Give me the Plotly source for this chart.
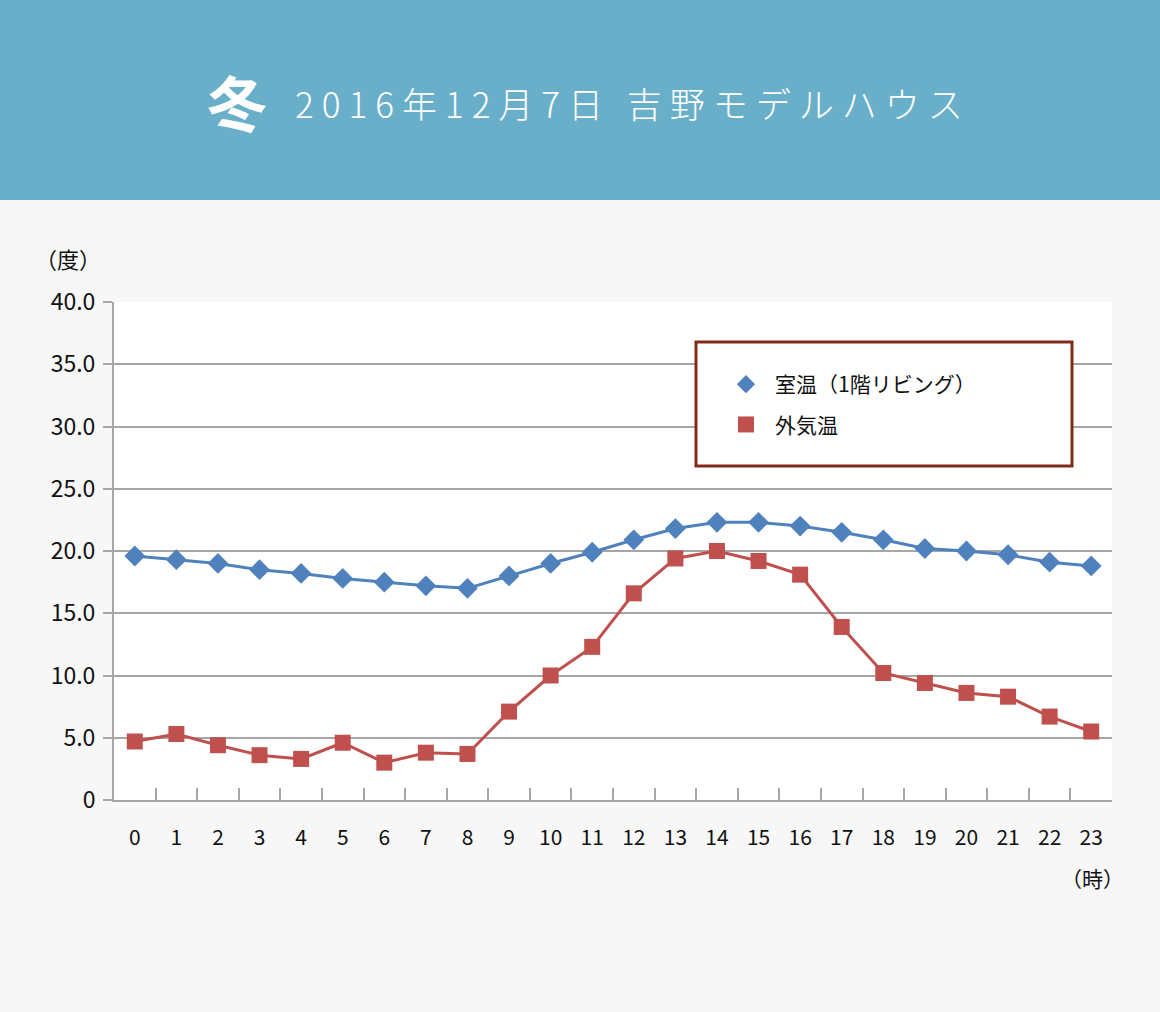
import plotly.graph_objects as go

hours = list(range(24))
hour_labels = [str(h) for h in hours]
room_temp = [19.6, 19.3, 19.0, 18.5, 18.2, 17.8, 17.5, 17.2, 17.0, 18.0, 19.0, 19.9,
             20.9, 21.8, 22.3, 22.3, 22.0, 21.5, 20.9, 20.2, 20.0, 19.7, 19.1, 18.8]
outside_temp = [4.7, 5.3, 4.4, 3.6, 3.3, 4.6, 3.0, 3.8, 3.7, 7.1, 10.0, 12.3,
                16.6, 19.4, 20.0, 19.2, 18.1, 13.9, 10.2, 9.4, 8.6, 8.3, 6.7, 5.5]
y_ticks = [0, 5, 10, 15, 20, 25, 30, 35, 40]
y_tick_labels = ["0", "5.0", "10.0", "15.0", "20.0", "25.0", "30.0", "35.0", "40.0"]
series_names = ["室温（1階リビング）", "外気温"]

FONT = "Noto Sans CJK JP"
BLUE = "#4f81bd"
RED = "#c0504d"
GRID = "#a6a6a6"

W, H = 1160, 1012
L, R, T, B = 114, 48, 302, 212
PW, PH = W - L - R, H - T - B


def px_x(px):
    return (px - L) / PW


def px_y(py):
    return (H - B - py) / PH


fig = go.Figure()

fig.add_trace(go.Scatter(x=hour_labels, y=room_temp, mode="lines+markers",
                         line=dict(color=BLUE, width=3),
                         marker=dict(symbol="diamond", size=16, color=BLUE),
                         showlegend=False))
fig.add_trace(go.Scatter(x=hour_labels, y=outside_temp, mode="lines+markers",
                         line=dict(color=RED, width=3),
                         marker=dict(symbol="square", size=16, color=RED),
                         showlegend=False))
# legend-only entries (markers only)
fig.add_trace(go.Scatter(x=[None], y=[None], mode="markers", name=series_names[0],
                         marker=dict(symbol="diamond", size=14, color=BLUE),
                         legendgroup="a"))
fig.add_trace(go.Scatter(x=[None], y=[None], mode="markers", name=series_names[1],
                         marker=dict(symbol="square", size=16, color=RED),
                         legendgroup="b"))

shapes = [
    dict(type="rect", xref="paper", yref="paper",
         x0=px_x(0), x1=px_x(W), y0=px_y(200), y1=px_y(0),
         fillcolor="#6aafc9", line=dict(width=0), layer="below"),
    dict(type="rect", xref="paper", yref="paper",
         x0=px_x(696), x1=px_x(1072), y0=px_y(466), y1=px_y(342),
         fillcolor="white", line=dict(color="#7f2a1a", width=3), layer="above"),
]

annotations = [
    dict(text="<b>冬</b>", xref="paper", yref="paper", x=px_x(237), y=px_y(100),
         xanchor="center", yanchor="middle", showarrow=False,
         font=dict(family=FONT, size=60, color="white")),
    dict(text="2016年12月7日 吉野モデルハウス", xref="paper", yref="paper",
         x=px_x(633), y=px_y(103), xanchor="center", yanchor="middle", showarrow=False,
         font=dict(family=FONT, size=35, color="white", weight=300)),
    dict(text="（度）", xref="paper", yref="paper", x=px_x(68), y=px_y(258),
         xanchor="center", yanchor="middle", showarrow=False,
         font=dict(family=FONT, size=22, color="#111")),
    dict(text="（時）", xref="paper", yref="paper", x=px_x(1092), y=px_y(878),
         xanchor="center", yanchor="middle", showarrow=False,
         font=dict(family=FONT, size=21, color="#111")),
]

fig.update_layout(
    width=W, height=H,
    margin=dict(l=L, r=R, t=T, b=B, pad=0),
    paper_bgcolor="#f7f7f7",
    plot_bgcolor="white",
    font=dict(family=FONT, size=20, color="#111"),
    shapes=shapes,
    annotations=annotations,
    showlegend=True,
    legend=dict(x=px_x(717), y=px_y(364), xanchor="left", yanchor="top",
                bgcolor="rgba(0,0,0,0)", borderwidth=0,
                font=dict(family=FONT, size=21, color="#111"),
                tracegroupgap=10, traceorder="grouped", itemwidth=48),
)

fig.update_xaxes(
    type="category", tickmode="array", tickvals=hour_labels, ticktext=hour_labels,
    range=[-0.5, 23.5], showgrid=False, zeroline=False,
    showline=True, linecolor=GRID, linewidth=2,
    ticks="inside", tickson="boundaries", ticklen=12, tickwidth=1.5, tickcolor=GRID,
    tickfont=dict(family=FONT, size=21, color="#111"),
    ticklabelstandoff=18,
)
fig.update_yaxes(
    range=[0, 40], tickmode="array", tickvals=y_ticks, ticktext=y_tick_labels,
    showgrid=True, gridcolor=GRID, gridwidth=2, zeroline=False,
    showline=True, linecolor=GRID, linewidth=2,
    ticks="outside", ticklen=9, tickwidth=2, tickcolor=GRID,
    tickfont=dict(family=FONT, size=23, color="#111"),
    ticklabelstandoff=3,
)

post = (
    "document.body.style.margin='0';"
    "var gd=document.getElementById('{plot_id}');"
    "gd.querySelectorAll('.annotation-text').forEach(function(t){"
    "if(t.textContent.indexOf('2016')===0){t.style.letterSpacing='8px';}});"
)

fig.write_html("out.html", post_script=post, config={"displayModeBar": False})
